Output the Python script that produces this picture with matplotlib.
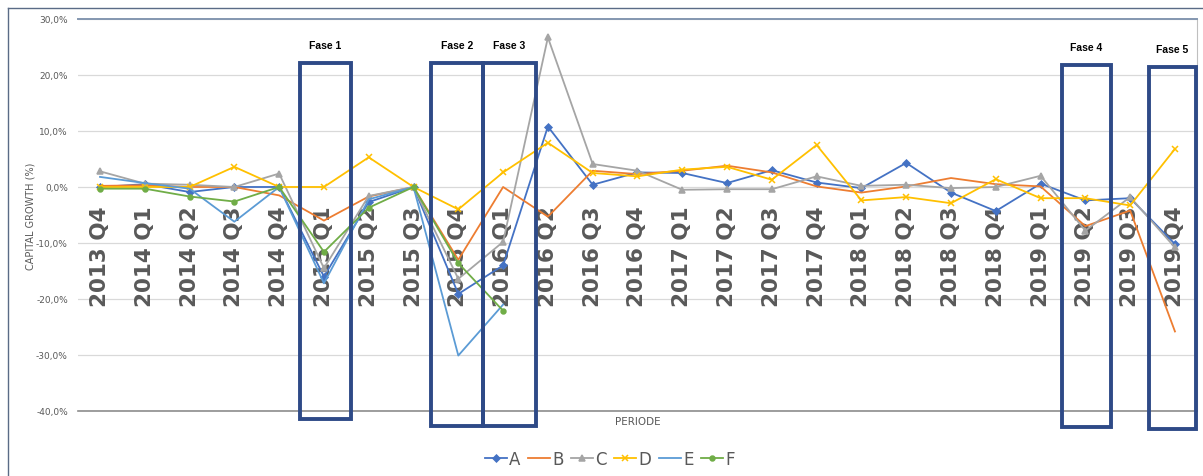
import numpy as np
import matplotlib.pyplot as plt
from matplotlib.patches import Rectangle
from matplotlib.lines import Line2D

periods = ["2013 Q4", "2014 Q1", "2014 Q2", "2014 Q3", "2014 Q4",
           "2015 Q1", "2015 Q2", "2015 Q3", "2015 Q4", "2016 Q1",
           "2016 Q2", "2016 Q3", "2016 Q4", "2017 Q1", "2017 Q2",
           "2017 Q3", "2017 Q4", "2018 Q1", "2018 Q2", "2018 Q3",
           "2018 Q4", "2019 Q1", "2019 Q2", "2019 Q3", "2019 Q4"]

# capital growth per quarter, in %
A = [0.0, 0.5, -0.9, 0.0, 0.0, -16.0, -2.7, 0.0, -19.1, -14.0,
     10.8, 0.4, 2.6, 2.5, 0.7, 3.0, 0.8, -0.2, 4.3, -1.0,
     -4.3, 0.6, -2.4, -2.0, -10.2]
B = [0.2, 0.3, 0.0, 0.0, -1.5, -6.0, -1.7, 0.0, -13.0, 0.0,
     -5.3, 2.9, 2.3, 2.9, 3.8, 2.6, 0.1, -1.0, 0.1, 1.6,
     0.5, 0.1, -7.0, -4.2, -25.8]
C = [2.8, 0.6, 0.4, 0.0, 2.4, -14.5, -1.6, 0.0, -16.4, -9.8,
     26.7, 4.1, 2.9, -0.5, -0.4, -0.4, 1.9, 0.2, 0.4, -0.2,
     0.0, 2.0, -7.8, -1.8, -10.8]
D = [0.0, 0.0, 0.0, 3.6, 0.0, 0.0, 5.3, 0.0, -4.0, 2.6,
     7.9, 2.5, 1.9, 3.1, 3.6, 1.3, 7.5, -2.4, -1.8, -2.9,
     1.4, -2.0, -2.0, -3.3, 6.8]
E = [1.8, 0.7, -0.3, -6.2, 0.0, -17.2, -2.2, 0.0, -30.1, -21.0] + [np.nan] * 15
F = [-0.3, -0.3, -1.7, -2.6, 0.0, -11.6, -3.7, 0.0, -13.6, -22.1] + [np.nan] * 15

series = [("A", A, "#4472C4", "D", 3.5),
          ("B", B, "#ED7D31", None, 0),
          ("C", C, "#A5A5A5", "^", 4.5),
          ("D", D, "#FFC000", "x", 4.5),
          ("E", E, "#5B9BD5", None, 0),
          ("F", F, "#70AD47", "o", 3.5)]

# (label, left, right, top, bottom) in category / percent units
phases = [("Fase 1", 4.46, 5.60, 22.1, -41.4),
          ("Fase 2", 7.39, 8.55, 22.1, -42.7),
          ("Fase 3", 8.55, 9.73, 22.1, -42.7),
          ("Fase 4", 21.47, 22.57, 21.8, -42.9),
          ("Fase 5", 23.42, 24.46, 21.4, -43.2)]

grey = "#595959"
fig = plt.figure(figsize=(12.03, 4.77), dpi=100)
ax = fig.add_axes([0.0645, 0.1363, 0.9308, 0.8218])

x = np.arange(len(periods))
for name, vals, col, mk, ms in series:
    ax.plot(x, vals, color=col, lw=1.3, marker=mk, ms=ms, mew=1.1,
            label=name, zorder=3)

ax.set_xlim(-0.5, len(periods) - 0.5)
ax.set_ylim(-40, 30)
ax.set_yticks(np.arange(-40, 31, 10))
ax.set_yticklabels([f"{v:.1f}%".replace(".", ",") for v in np.arange(-40, 31, 10)],
                   fontsize=6.5, color=grey)
ax.tick_params(axis="y", length=0, pad=7)
ax.set_xticks([])
ax.grid(axis="y", color="#D9D9D9", lw=0.9)
ax.set_axisbelow(True)

ax.spines["left"].set_visible(False)
ax.spines["top"].set_color("#8497B0")
ax.spines["top"].set_linewidth(1.4)
ax.spines["bottom"].set_color("#8C8C8C")
ax.spines["bottom"].set_linewidth(1.2)
ax.spines["right"].set_color("#BFBFBF")
ax.spines["right"].set_linewidth(0.8)

# category labels sit inside the plot, just under the zero line
for i, lab in enumerate(periods):
    ax.text(i, -3.3, lab, rotation=90, ha="center", va="top",
            fontsize=15.5, fontweight="bold", color=grey, zorder=2)

for lab, l, r, t, b in phases:
    ax.add_patch(Rectangle((l, b), r - l, t - b, fill=False, ec="#2E4A87",
                           lw=2.8, clip_on=False, zorder=4))
    ax.text((l + r) / 2, t + 3.2, lab, ha="center", va="center",
            fontsize=7.5, fontweight="bold", color="black",
            family="Liberation Sans")

fig.text(0.53, 0.115, "PERIODE", ha="center", va="center", fontsize=7.5, color=grey)
fig.text(0.025, 0.547, "CAPITAL GROWTH (%)", rotation=90, ha="center",
         va="center", fontsize=7, color=grey)

fig.legend(loc="center", bbox_to_anchor=(0.507, 0.035), ncol=6, frameon=False,
           fontsize=12, handlelength=1.3, handletextpad=0.15,
           columnspacing=0.45, labelcolor=grey)

# outer chart frame (top and left edges)
fig.add_artist(Line2D([8 / 1203, 1], [1 - 9 / 477, 1 - 9 / 477],
                      transform=fig.transFigure, color="#5A6B86", lw=1.0))
fig.add_artist(Line2D([8 / 1203, 8 / 1203], [0, 1 - 9 / 477],
                      transform=fig.transFigure, color="#5A6B86", lw=1.0))

fig.savefig("out.png", dpi=100)
